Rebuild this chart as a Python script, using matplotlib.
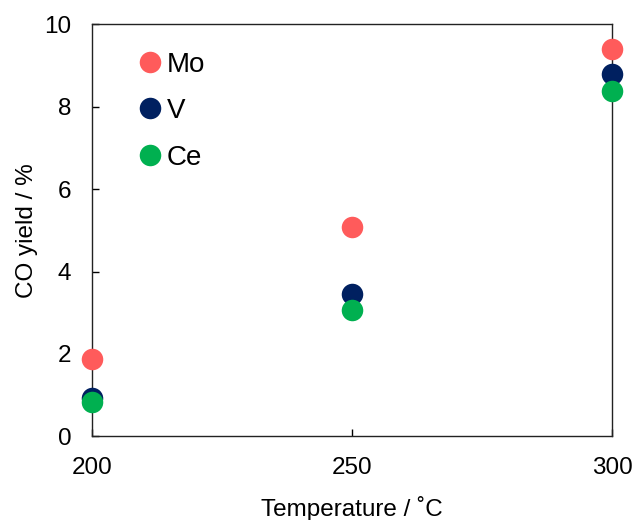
import matplotlib
matplotlib.use("Agg")
import matplotlib.pyplot as plt

plt.rcParams['font.family'] = ['Liberation Sans', 'DejaVu Sans']

temperature = [200, 250, 300]
mo = [1.87, 5.07, 9.40]
v = [0.93, 3.45, 8.78]
ce = [0.84, 3.06, 8.37]

series = [("Mo", mo, "#FF5B5B"), ("V", v, "#002060"), ("Ce", ce, "#00B050")]

fig = plt.figure(figsize=(6.37, 5.2), dpi=100)
ax = fig.add_axes([0.1444, 0.1606, 0.9615 - 0.1444, 0.9538 - 0.1606])

for name, vals, col in series:
    ax.plot(temperature, vals, linestyle='none', marker='o', markersize=15.5,
            color=col, markeredgewidth=0, label=name, clip_on=False, zorder=3)

ax.set_xlim(200, 300)
ax.set_ylim(0, 10)
ax.set_xticks([200, 250, 300])
ax.set_yticks([0, 2, 4, 6, 8, 10])
ax.tick_params(direction='in', length=5, width=1, labelsize=17.5, pad=15, colors='black')
for s in ax.spines.values():
    s.set_linewidth(1.0)
    s.set_color('#222222')

ax.set_xlabel("Temperature / ˚C", fontsize=17.5, labelpad=12)
ax.set_ylabel("CO yield / %", fontsize=17.5, labelpad=4)

leg = ax.legend(loc='upper left', bbox_to_anchor=(0.063, 0.960), frameon=False,
                fontsize=20, handletextpad=0.11, labelspacing=0.74,
                handlelength=1.0, borderaxespad=0, markerscale=1.0)

fig.savefig("out.png", dpi=100)
